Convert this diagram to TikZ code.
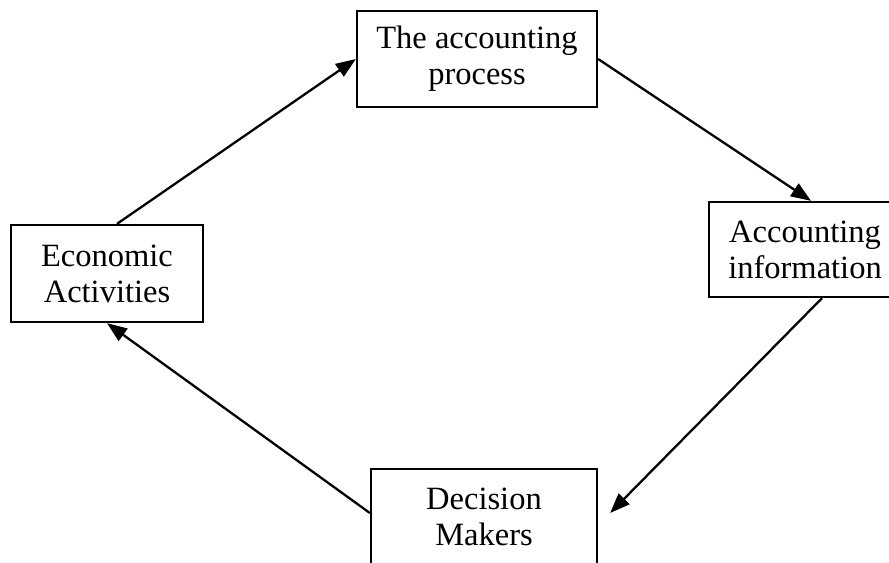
\documentclass[tikz,border=0pt]{standalone}
\usepackage{fontspec}
\setmainfont{Liberation Serif}
\usetikzlibrary{arrows.meta}

\begin{document}
\begin{tikzpicture}[
        box/.style={draw, line width=1.3pt, align=center, inner sep=0pt,
            font=\fontsize{18.5}{20.5}\selectfont},
        flow/.style={line width=1.3pt, -{Triangle[length=0.4cm,width=0.3cm]}}
    ]
            \useasboundingbox (0,0) rectangle (17.78,-11.26);

            \node[box, minimum width=4.8cm, minimum height=1.92cm] (theaccproc) at (9.54,-1.18) {The accounting\\process};
            \node[box, minimum width=3.84cm, minimum height=1.9cm] (accinfo) at (16.1,-4.99) {Accounting\\information};
            \node[box, minimum width=4.52cm, minimum height=1.92cm] (decmak) at (9.68,-10.34) {Decision\\Makers};
            \node[box, minimum width=3.84cm, minimum height=1.94cm] (econact) at (2.14,-5.47) {Economic\\Activities};

            \draw[flow] ([xshift=0.2cm]econact.north) to (theaccproc.west);
            \draw[flow] (theaccproc.east) to ([xshift=0.12cm]accinfo.north);
            \draw[flow] ([xshift=0.34cm]accinfo.south) to ([xshift=0.24cm,yshift=0.08cm]decmak.east);
            \draw[flow] ([yshift=0.08cm]decmak.west) to (econact.south);
        \end{tikzpicture}
\end{document}
